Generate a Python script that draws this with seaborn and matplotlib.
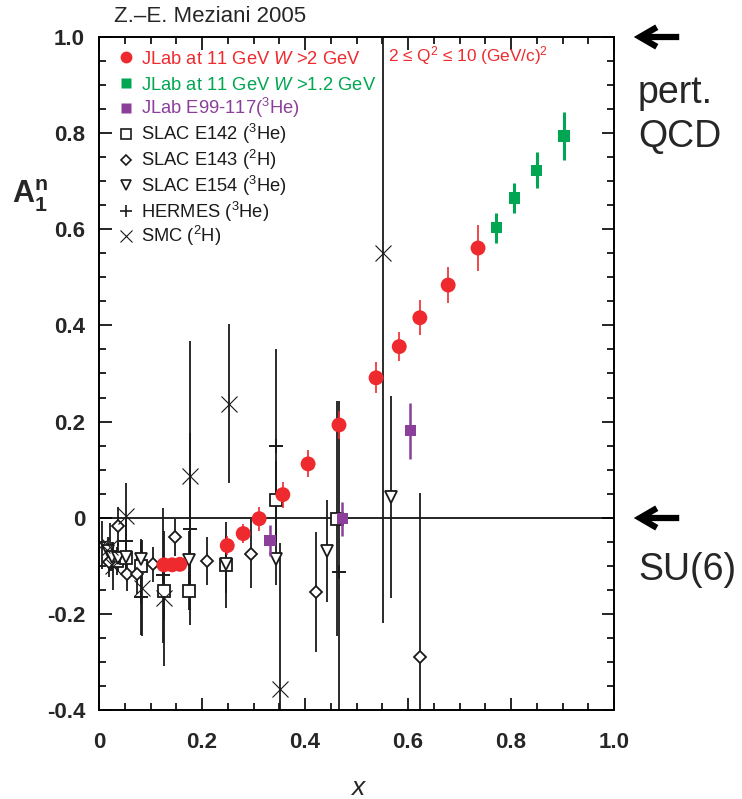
import numpy as np
import matplotlib
matplotlib.use("Agg")
import matplotlib.pyplot as plt
from matplotlib.patches import FancyArrowPatch
from matplotlib.ticker import MultipleLocator
import seaborn as sns

# ---------------------------------------------------------------
# data
# ---------------------------------------------------------------
# JLab at 11 GeV, W > 2 GeV (projected)
jlab_w2_x = [0.126, 0.142, 0.157, 0.249, 0.280, 0.311, 0.357, 0.406, 0.466,
             0.538, 0.583, 0.623, 0.678, 0.736]
jlab_w2_y = [-0.098, -0.098, -0.097, -0.058, -0.033, -0.002, 0.048, 0.112, 0.193,
             0.291, 0.356, 0.416, 0.484, 0.561]
jlab_w2_err = [0.012, 0.012, 0.012, 0.020, 0.020, 0.025, 0.027, 0.028, 0.030,
               0.032, 0.030, 0.036, 0.038, 0.048]

# JLab at 11 GeV, W > 1.2 GeV
jlab_w12_x = [0.771, 0.806, 0.850, 0.903]
jlab_w12_y = [0.603, 0.665, 0.723, 0.794]
jlab_w12_err = [0.031, 0.032, 0.038, 0.050]

# JLab E99-117 (3He)
e99_x = [0.332, 0.472, 0.604]
e99_y = [-0.047, -0.002, 0.181]
e99_err = [0.032, 0.035, 0.058]

# SLAC E142 (3He)
e142_x = [0.035, 0.052, 0.082, 0.126, 0.175, 0.247, 0.344, 0.462]
e142_y = [-0.090, -0.083, -0.100, -0.152, -0.153, -0.098, 0.037, -0.002]
e142_err = [0.030, 0.040, 0.050, 0.060, 0.040, 0.090, 0.080, 0.245]

# SLAC E143 (2H)
e143_x = [0.019, 0.037, 0.054, 0.074, 0.105, 0.148, 0.209, 0.295, 0.421, 0.624]
e143_y = [-0.093, -0.018, -0.117, -0.118, -0.097, -0.041, -0.090, -0.075, -0.154, -0.289]
e143_err = [0.030, 0.040, 0.035, 0.040, 0.036, 0.038, 0.050, 0.072, 0.125, 0.340]

# SLAC E154 (3He)
e154_x = [0.017, 0.025, 0.037, 0.052, 0.082, 0.175, 0.247, 0.344, 0.443, 0.567]
e154_y = [-0.070, -0.081, -0.083, -0.082, -0.085, -0.087, -0.097, -0.085, -0.069, 0.044]
e154_err = [0.030, 0.030, 0.030, 0.035, 0.040, 0.060, 0.060, 0.054, 0.106, 0.210]

# HERMES (3He)
hermes_x = [0.052, 0.082, 0.125, 0.177, 0.344, 0.466]
hermes_y = [-0.048, -0.164, -0.120, -0.023, 0.150, -0.112]
hermes_err = [0.050, 0.080, 0.140, 0.200, 0.200, 0.355]

# SMC (2H)
smc_x = [0.006, 0.021, 0.027, 0.052, 0.083, 0.126, 0.177, 0.252, 0.352, 0.551]
smc_y = [-0.056, -0.060, -0.100, 0.003, -0.146, -0.168, 0.087, 0.237, -0.357, 0.551]
smc_err = [0.050, 0.050, 0.050, 0.070, 0.100, 0.140, 0.280, 0.165, 0.305, 0.770]

x_ticks = [0, 0.2, 0.4, 0.6, 0.8, 1.0]
x_tick_labels = ["0", "0.2", "0.4", "0.6", "0.8", "1.0"]
y_ticks = [-0.4, -0.2, 0, 0.2, 0.4, 0.6, 0.8, 1.0]
y_tick_labels = ["-0.4", "-0.2", "0", "0.2", "0.4", "0.6", "0.8", "1.0"]

legend_labels = [
    "JLab at 11 GeV $W$ >2 GeV",
    "JLab at 11 GeV $W$ >1.2 GeV",
    "JLab E99-117($^3$He)",
    "SLAC E142 ($^3$He)",
    "SLAC E143 ($^2$H)",
    "SLAC E154 ($^3$He)",
    "HERMES ($^3$He)",
    "SMC ($^2$H)",
]

RED = "#ee2a2e"
GREEN = "#00a651"
PURPLE = "#8b3f9b"
INK = "#1a1a1a"

# ---------------------------------------------------------------
# style
# ---------------------------------------------------------------
sns.set_style("ticks")
plt.rcParams['font.family'] = ['Liberation Sans', 'DejaVu Sans']
plt.rcParams['mathtext.fontset'] = 'custom'
plt.rcParams['mathtext.rm'] = 'Liberation Sans'
plt.rcParams['mathtext.it'] = 'Liberation Sans:italic'
plt.rcParams['mathtext.bf'] = 'Liberation Sans:bold'

fig = plt.figure(figsize=(7.42, 7.99), dpi=100)
ax = fig.add_axes([99 / 742, 1 - 710 / 799, 515 / 742, 673 / 799])

ax.axhline(0, color="black", lw=1.2, zorder=1)

# black (older) data sets: open symbols with error bars
black_sets = [
    (e142_x, e142_y, e142_err, "s", 8.0, 1.3),
    (e143_x, e143_y, e143_err, "D", 6.5, 1.3),
    (e154_x, e154_y, e154_err, "v", 8.5, 1.3),
    (hermes_x, hermes_y, hermes_err, "+", 10.0, 1.4),
    (smc_x, smc_y, smc_err, "x", 11.0, 0.8),
]
for xs, ys, es, mk, ms, mew in black_sets:
    ax.errorbar(xs, ys, yerr=es, fmt=mk, ms=ms, mfc="white", mec=INK, mew=mew,
                ecolor=INK, elinewidth=1.3, capsize=0, zorder=2)

# coloured JLab points
ax.errorbar(jlab_w2_x, jlab_w2_y, yerr=jlab_w2_err, fmt="none", ecolor=RED,
            elinewidth=1.2, capsize=0, zorder=4)
sns.scatterplot(x=jlab_w2_x, y=jlab_w2_y, ax=ax, color=RED, marker="o", s=115,
                edgecolor="none", zorder=5)

ax.errorbar(jlab_w12_x, jlab_w12_y, yerr=jlab_w12_err, fmt="none", ecolor=GREEN,
            elinewidth=2.2, capsize=0, zorder=4)
sns.scatterplot(x=jlab_w12_x, y=jlab_w12_y, ax=ax, color=GREEN, marker="s", s=64,
                edgecolor="none", zorder=5)

ax.errorbar(e99_x, e99_y, yerr=e99_err, fmt="none", ecolor=PURPLE,
            elinewidth=1.8, capsize=0, zorder=4)
sns.scatterplot(x=e99_x, y=e99_y, ax=ax, color=PURPLE, marker="s", s=64,
                edgecolor="none", zorder=5)

# axes
ax.set_xlim(0, 1.0)
ax.set_ylim(-0.4, 1.0)
ax.set_xticks(x_ticks)
ax.set_xticklabels(x_tick_labels, fontweight="bold", fontsize=16)
ax.set_yticks(y_ticks)
ax.set_yticklabels(y_tick_labels, fontweight="bold", fontsize=16)
ax.xaxis.set_minor_locator(MultipleLocator(0.05))
ax.yaxis.set_minor_locator(MultipleLocator(0.05))
ax.tick_params(which="both", direction="in", top=True, right=True, width=1.2,
               color="black")
ax.tick_params(which="major", length=9)
ax.tick_params(which="minor", length=5)
ax.tick_params(axis="x", which="major", pad=16)
ax.tick_params(axis="y", which="major", pad=10)
for s in ax.spines.values():
    s.set_linewidth(1.4)
    s.set_color("black")

# legend, drawn row by row so the spacing stays even
leg_markers = [
    dict(marker="o", ms=8.5, mfc=RED, mec="none"),
    dict(marker="s", ms=7, mfc=GREEN, mec="none"),
    dict(marker="s", ms=7, mfc=PURPLE, mec="none"),
    dict(marker="s", ms=7, mfc="white", mec=INK, mew=1.2),
    dict(marker="D", ms=5.5, mfc="white", mec=INK, mew=1.2),
    dict(marker="v", ms=7, mfc="white", mec=INK, mew=1.2),
    dict(marker="+", ms=8, mec=INK, mew=1.2),
    dict(marker="x", ms=9, mec=INK, mew=0.8),
]
leg_colors = [RED, GREEN, PURPLE, INK, INK, INK, INK, INK]
row_px = [57, 83, 108, 134, 160, 185, 211, 236]
for lab, mk, col, ry in zip(legend_labels, leg_markers, leg_colors, row_px):
    yc = (710 - ry) / 673
    ax.plot([27 / 515], [yc], ls="none", transform=ax.transAxes, clip_on=False,
            zorder=6, **mk)
    ax.text(42 / 515, (710 - ry - 6.5) / 673, lab, color=col, fontsize=13.2,
            transform=ax.transAxes, ha="left", va="baseline")

ax.text(0.562, (710 - 55 - 6) / 673, r"2 ≤ Q$^2$ ≤ 10 (GeV/c)$^2$", color=RED,
        fontsize=12.4, transform=ax.transAxes, ha="left", va="baseline")

# labels and annotations around the frame
fig.text(114 / 742, 1 - 17 / 799, "Z.–E. Meziani 2005", fontsize=16,
         ha="left", va="center")
fig.text(12 / 742, 1 - 196 / 799, r"$\mathbf{A}_\mathbf{1}^\mathbf{n}$",
         fontsize=22, ha="left", va="center")
fig.text(358 / 742, 1 - 788 / 799, "x", fontsize=19, fontstyle="italic",
         ha="center", va="center")

for ypix in (37, 518):
    yf = 1 - ypix / 799
    fig.add_artist(FancyArrowPatch(
        (682 / 742, yf), (631 / 742, yf), transform=fig.transFigure,
        arrowstyle="->,head_length=5.5,head_width=3.2", lw=4.5, color="black",
        mutation_scale=2.2, capstyle="butt", joinstyle="miter"))

fig.text(638 / 742, 1 - 103 / 799, "pert.", fontsize=27, ha="left", va="baseline")
fig.text(638 / 742, 1 - 147 / 799, "QCD", fontsize=27, ha="left", va="baseline")
fig.text(638 / 742, 1 - 580 / 799, "SU(6)", fontsize=27, ha="left", va="baseline")

fig.savefig("out.png", dpi=100)
